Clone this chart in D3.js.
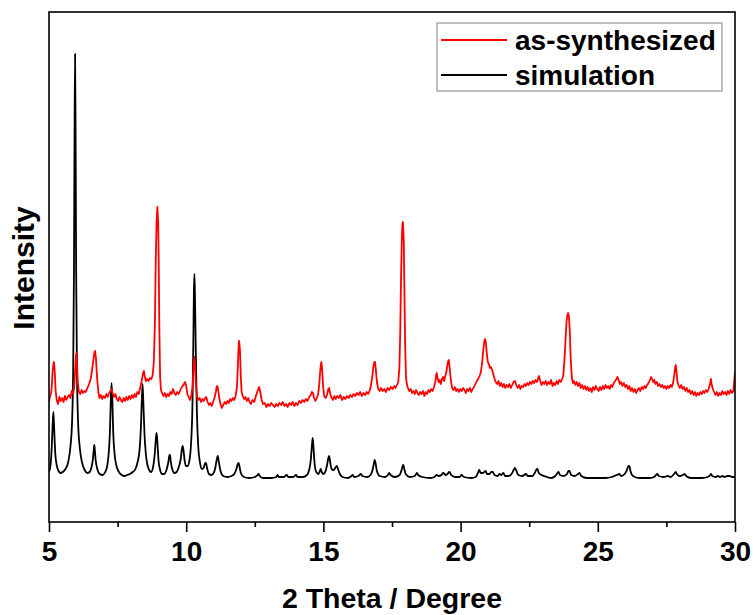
<!DOCTYPE html>
<html>
<head>
<meta charset="utf-8">
<script src="https://cdn.jsdelivr.net/npm/d3@7"></script>
<style>
  html, body { margin: 0; padding: 0; background: #fff; }
  svg text { font-family: "Liberation Sans", Arial, sans-serif; font-weight: bold; }
</style>
</head>
<body>
<svg id="chart" width="753" height="615"></svg>
<script>
// Powder XRD patterns: measured (as-synthesized) vs. simulated, stacked in arbitrary intensity units.
const xTicks = [5, 10, 15, 20, 25, 30];
const xMinorTicks = [7.5, 12.5, 17.5, 22.5, 27.5];
const seriesNames = ["as-synthesized", "simulation"];
const seriesColors = ["#ff0000", "#000000"];
const xLabel = "2 Theta / Degree";
const yLabel = "Intensity";

// simulated pattern [2θ, intensity]
const simulation = [
[5.00,50],[5.06,58],[5.10,75],[5.13,95],[5.16,110],[5.19,92],[5.23,68],[5.28,57],[5.35,51],[5.42,49],[5.50,50],[5.60,53],[5.70,60],[5.78,75],[5.84,100],[5.88,150],[5.91,250],[5.93,380],[5.95,468],[5.97,380],[5.99,250],[6.02,150],[6.06,100],[6.12,75],[6.20,60],[6.30,52],[6.40,49],[6.48,50],[6.55,55],[6.60,63],[6.63,72],[6.65,77],[6.67,72],[6.70,62],[6.76,53],[6.85,48],[6.95,47],[7.05,50],[7.12,56],[7.18,70],[7.22,90],[7.25,120],[7.28,139],[7.31,120],[7.34,90],[7.39,68],[7.46,56],[7.55,50],[7.65,47],[7.75,46],[7.85,47],[7.95,48],[8.05,50],[8.15,53],[8.23,60],[8.30,72],[8.35,95],[8.38,120],[8.41,138],[8.44,118],[8.48,88],[8.53,68],[8.58,58],[8.65,52],[8.72,50],[8.80,56],[8.86,70],[8.90,85],[8.92,89],[8.95,80],[8.99,62],[9.05,52],[9.12,48],[9.20,48],[9.28,52],[9.35,60],[9.39,67],[9.41,67],[9.44,60],[9.50,52],[9.57,49],[9.65,50],[9.73,55],[9.80,63],[9.84,72],[9.87,76],[9.90,72],[9.94,62],[9.99,56],[10.05,56],[10.12,62],[10.18,80],[10.23,120],[10.26,180],[10.28,230],[10.30,248],[10.32,225],[10.35,170],[10.39,110],[10.44,75],[10.50,60],[10.57,53],[10.63,54],[10.68,58],[10.72,59],[10.76,54],[10.83,48],[10.92,47],[11.00,49],[11.06,54],[11.11,62],[11.15,66],[11.19,60],[11.25,51],[11.35,46],[11.50,45],[11.65,46],[11.75,48],[11.83,53],[11.88,58],[11.91,59],[11.94,56],[11.99,49],[12.10,45],[12.30,44],[12.50,45],[12.60,47],[12.64,48],[12.68,46],[12.80,44],[13.10,44],[13.28,45],[13.33,47],[13.38,45],[13.55,45],[13.66,47],[13.72,45],[13.90,45],[14.00,47],[14.06,45],[14.25,45],[14.40,47],[14.48,52],[14.54,62],[14.58,76],[14.61,84],[14.64,74],[14.68,58],[14.74,50],[14.82,48],[14.87,51],[14.90,53],[14.94,50],[15.00,48],[15.08,51],[15.14,58],[15.18,64],[15.21,66],[15.24,61],[15.30,53],[15.38,52],[15.45,55],[15.49,56],[15.53,53],[15.60,48],[15.70,45],[15.90,44],[16.02,46],[16.07,47],[16.12,45],[16.28,46],[16.36,48],[16.42,46],[16.60,45],[16.72,47],[16.80,53],[16.85,60],[16.87,62],[16.90,59],[16.95,51],[17.05,46],[17.25,45],[17.35,47],[17.40,49],[17.45,47],[17.60,45],[17.78,47],[17.85,52],[17.89,56],[17.91,57],[17.94,54],[18.00,48],[18.15,45],[18.33,46],[18.38,48],[18.41,49],[18.45,47],[18.60,45],[18.90,44],[19.05,45],[19.13,47],[19.20,46],[19.30,47],[19.37,49],[19.45,47],[19.52,48],[19.59,50],[19.66,47],[19.80,45],[19.96,45],[20.04,47],[20.12,45],[20.40,44],[20.55,45],[20.63,49],[20.68,52],[20.73,49],[20.80,49],[20.86,50],[20.91,51],[20.96,48],[21.05,48],[21.12,50],[21.17,50],[21.24,47],[21.35,46],[21.42,48],[21.48,47],[21.52,48],[21.56,49],[21.62,46],[21.75,46],[21.88,49],[21.95,53],[21.98,54],[22.02,52],[22.10,47],[22.25,46],[22.38,48],[22.45,46],[22.62,46],[22.72,50],[22.78,53],[22.80,53],[22.85,49],[22.95,47],[23.15,45],[23.30,44],[23.45,46],[23.53,49],[23.57,50],[23.62,47],[23.75,46],[23.88,48],[23.93,51],[23.97,51],[24.03,47],[24.15,46],[24.28,48],[24.33,49],[24.40,46],[24.60,44],[25.00,44],[25.30,44],[25.50,45],[25.60,46],[25.70,47],[25.78,48],[25.85,46],[25.98,48],[26.06,52],[26.12,56],[26.15,56],[26.19,51],[26.28,46],[26.50,44],[26.90,44],[27.05,45],[27.12,47],[27.17,48],[27.22,46],[27.40,45],[27.55,46],[27.65,45],[27.78,48],[27.84,50],[27.88,48],[27.98,46],[28.10,47],[28.17,48],[28.22,46],[28.40,44],[28.80,44],[29.00,45],[29.10,47],[29.13,48],[29.17,46],[29.30,45],[29.38,46],[29.45,45],[29.55,46],[29.62,45],[29.72,46],[29.80,46],[29.90,45],[30.00,45]
];

// measured pattern [2θ, intensity], offset above the simulation
const asSynthesized = [
[5.00,120],[5.03,125],[5.07,128],[5.10,135],[5.13,150],[5.16,158],[5.18,160],[5.21,150],[5.24,132],[5.28,122],[5.33,118],[5.38,125],[5.43,121],[5.48,124],[5.53,120],[5.58,126],[5.63,122],[5.68,125],[5.73,127],[5.78,124],[5.83,131],[5.88,128],[5.92,135],[5.95,150],[5.98,166],[6.00,169],[6.02,160],[6.05,140],[6.09,130],[6.14,128],[6.19,132],[6.24,129],[6.29,131],[6.34,130],[6.40,134],[6.46,138],[6.52,143],[6.57,152],[6.62,163],[6.66,170],[6.68,171],[6.71,164],[6.75,145],[6.80,130],[6.84,124],[6.89,127],[6.94,123],[6.99,126],[7.04,124],[7.09,128],[7.14,125],[7.19,129],[7.24,131],[7.28,133],[7.32,129],[7.37,125],[7.42,128],[7.47,123],[7.52,121],[7.57,125],[7.62,122],[7.67,120],[7.72,124],[7.77,121],[7.82,125],[7.87,122],[7.92,126],[7.97,123],[8.02,127],[8.07,124],[8.12,128],[8.17,125],[8.22,130],[8.27,128],[8.32,134],[8.37,140],[8.41,146],[8.44,150],[8.46,151],[8.49,146],[8.53,141],[8.58,143],[8.63,141],[8.68,144],[8.73,143],[8.78,147],[8.82,160],[8.86,200],[8.89,260],[8.92,300],[8.95,315],[8.98,300],[9.00,255],[9.02,195],[9.05,145],[9.08,132],[9.12,129],[9.17,126],[9.22,129],[9.27,125],[9.32,128],[9.37,126],[9.42,130],[9.47,128],[9.52,133],[9.57,129],[9.62,127],[9.67,130],[9.72,128],[9.77,131],[9.82,134],[9.87,136],[9.92,138],[9.96,140],[10.00,136],[10.04,128],[10.09,125],[10.14,122],[10.19,127],[10.23,135],[10.26,150],[10.28,160],[10.30,165],[10.32,158],[10.35,140],[10.39,126],[10.44,122],[10.49,124],[10.54,120],[10.59,123],[10.64,121],[10.69,124],[10.73,125],[10.78,120],[10.83,117],[10.88,119],[10.93,116],[10.98,120],[11.03,124],[11.08,130],[11.11,135],[11.13,136],[11.16,133],[11.20,125],[11.25,118],[11.30,114],[11.35,117],[11.40,120],[11.45,118],[11.50,121],[11.55,119],[11.60,123],[11.65,121],[11.70,124],[11.75,122],[11.80,126],[11.85,135],[11.88,155],[11.91,176],[11.93,181],[11.96,172],[11.99,145],[12.02,130],[12.06,126],[12.11,123],[12.16,125],[12.21,121],[12.26,124],[12.31,120],[12.36,118],[12.42,122],[12.48,120],[12.54,126],[12.60,131],[12.64,134],[12.66,135],[12.70,130],[12.75,122],[12.80,118],[12.86,119],[12.92,115],[12.98,118],[13.04,116],[13.10,119],[13.16,117],[13.22,115],[13.28,118],[13.34,116],[13.40,119],[13.46,117],[13.52,120],[13.58,116],[13.64,118],[13.70,115],[13.76,119],[13.82,117],[13.88,120],[13.94,116],[14.00,119],[14.06,117],[14.12,121],[14.18,119],[14.24,122],[14.30,120],[14.36,123],[14.42,121],[14.48,125],[14.54,127],[14.58,130],[14.62,129],[14.66,124],[14.71,121],[14.76,124],[14.81,128],[14.85,138],[14.88,150],[14.91,158],[14.93,160],[14.96,150],[14.99,135],[15.03,126],[15.08,124],[15.13,127],[15.18,133],[15.21,134],[15.25,128],[15.30,124],[15.35,122],[15.40,126],[15.45,123],[15.50,126],[15.56,124],[15.62,127],[15.68,122],[15.74,125],[15.80,123],[15.86,126],[15.92,124],[15.98,127],[16.04,125],[16.10,128],[16.16,126],[16.22,129],[16.28,127],[16.34,130],[16.40,126],[16.46,129],[16.52,127],[16.58,130],[16.63,128],[16.68,131],[16.73,136],[16.78,145],[16.82,155],[16.86,160],[16.88,160],[16.91,153],[16.95,140],[17.00,133],[17.05,131],[17.10,134],[17.16,131],[17.22,133],[17.28,130],[17.34,134],[17.40,132],[17.46,135],[17.52,133],[17.58,136],[17.63,134],[17.68,137],[17.73,140],[17.77,155],[17.80,190],[17.83,245],[17.86,285],[17.88,298],[17.90,300],[17.93,280],[17.95,235],[17.98,175],[18.01,145],[18.04,138],[18.08,134],[18.13,131],[18.18,133],[18.23,129],[18.28,131],[18.33,128],[18.38,132],[18.43,129],[18.48,127],[18.53,130],[18.58,128],[18.63,131],[18.68,126],[18.73,130],[18.78,128],[18.83,132],[18.88,130],[18.93,133],[18.98,131],[19.03,135],[19.08,140],[19.11,147],[19.13,149],[19.16,144],[19.20,140],[19.24,142],[19.28,138],[19.32,143],[19.36,145],[19.40,141],[19.44,146],[19.48,150],[19.52,157],[19.55,161],[19.57,162],[19.60,155],[19.64,143],[19.69,134],[19.74,132],[19.79,135],[19.84,131],[19.89,133],[19.94,130],[19.99,133],[20.04,131],[20.09,134],[20.14,132],[20.19,129],[20.24,133],[20.29,131],[20.34,134],[20.39,130],[20.44,133],[20.49,135],[20.54,138],[20.59,141],[20.64,143],[20.69,146],[20.74,150],[20.78,158],[20.82,170],[20.86,180],[20.89,183],[20.92,180],[20.95,170],[20.99,160],[21.03,158],[21.07,154],[21.11,155],[21.15,152],[21.19,148],[21.23,144],[21.28,140],[21.33,138],[21.38,141],[21.43,136],[21.48,139],[21.53,135],[21.58,138],[21.63,134],[21.68,137],[21.73,135],[21.78,138],[21.83,134],[21.88,137],[21.93,140],[21.98,141],[22.03,137],[22.08,134],[22.13,137],[22.18,133],[22.23,136],[22.28,135],[22.33,138],[22.38,136],[22.43,139],[22.48,137],[22.53,140],[22.58,138],[22.63,141],[22.68,139],[22.73,142],[22.78,140],[22.83,144],[22.86,146],[22.90,141],[22.95,137],[23.00,140],[23.05,138],[23.10,141],[23.15,137],[23.20,140],[23.25,138],[23.30,142],[23.35,136],[23.40,139],[23.45,137],[23.50,141],[23.55,138],[23.60,142],[23.65,140],[23.70,143],[23.74,146],[23.78,160],[23.82,180],[23.86,200],[23.89,207],[23.92,209],[23.95,205],[23.98,190],[24.01,165],[24.05,145],[24.09,139],[24.13,141],[24.18,137],[24.23,140],[24.28,136],[24.33,139],[24.38,134],[24.43,137],[24.48,133],[24.53,136],[24.58,132],[24.63,135],[24.68,131],[24.73,134],[24.78,130],[24.83,135],[24.88,132],[24.93,136],[24.98,133],[25.03,131],[25.08,135],[25.13,132],[25.18,136],[25.23,133],[25.28,137],[25.33,134],[25.38,136],[25.43,133],[25.48,137],[25.53,135],[25.58,139],[25.63,141],[25.68,143],[25.72,145],[25.76,142],[25.80,138],[25.85,140],[25.90,136],[25.95,139],[26.00,135],[26.05,137],[26.10,133],[26.15,136],[26.20,131],[26.25,134],[26.30,130],[26.35,133],[26.40,129],[26.45,132],[26.50,134],[26.55,131],[26.60,135],[26.65,133],[26.70,136],[26.75,134],[26.80,137],[26.85,139],[26.90,142],[26.94,145],[26.98,143],[27.02,140],[27.06,142],[27.10,138],[27.15,140],[27.20,136],[27.25,138],[27.30,135],[27.35,137],[27.40,134],[27.45,136],[27.50,133],[27.55,136],[27.60,134],[27.65,137],[27.70,135],[27.75,140],[27.79,148],[27.82,155],[27.84,157],[27.87,150],[27.90,140],[27.94,137],[27.99,134],[28.04,137],[28.09,133],[28.14,135],[28.19,131],[28.24,134],[28.29,130],[28.34,132],[28.39,128],[28.44,131],[28.49,127],[28.54,130],[28.59,126],[28.64,129],[28.69,127],[28.74,130],[28.79,128],[28.84,131],[28.89,129],[28.94,132],[28.99,130],[29.04,133],[29.09,138],[29.12,143],[29.15,138],[29.19,133],[29.24,130],[29.29,127],[29.34,130],[29.39,126],[29.44,129],[29.49,127],[29.54,131],[29.59,128],[29.64,130],[29.69,127],[29.74,131],[29.79,128],[29.84,132],[29.89,129],[29.94,131],[29.97,140],[30.00,150]
];

const margin = { top: 12, right: 18, bottom: 93, left: 49 };
const width = 753, height = 615;
const innerW = width - margin.left - margin.right;
const innerH = height - margin.top - margin.bottom;

const svg = d3.select("#chart");
const g = svg.append("g").attr("transform", `translate(${margin.left},${margin.top})`);

const x = d3.scaleLinear().domain([5, 30]).range([0, innerW]);
const y = d3.scaleLinear().domain([0, 510]).range([innerH, 0]);

// clip traces to the frame
svg.append("defs").append("clipPath").attr("id", "plotClip")
  .append("rect").attr("width", innerW).attr("height", innerH);

const plot = g.append("g").attr("clip-path", "url(#plotClip)");

// simulated trace: smooth profile through the sampled points
plot.append("path").datum(simulation)
  .attr("fill", "none").attr("stroke", seriesColors[1]).attr("stroke-width", 1.8)
  .attr("stroke-linejoin", "round")
  .attr("d", d3.line().x(d => x(d[0])).y(d => y(d[1])).curve(d3.curveMonotoneX));

// measured trace: straight segments keep the noise
plot.append("path").datum(asSynthesized)
  .attr("fill", "none").attr("stroke", seriesColors[0]).attr("stroke-width", 1.8)
  .attr("stroke-linejoin", "round")
  .attr("d", d3.line().x(d => x(d[0])).y(d => y(d[1])));

// frame
g.append("rect").attr("width", innerW).attr("height", innerH)
  .attr("fill", "none").attr("stroke", "#000").attr("stroke-width", 1.6);

// bottom axis: major and minor ticks pointing outward
const xAxis = g.append("g").attr("transform", `translate(0,${innerH})`)
  .call(d3.axisBottom(x).tickValues(xTicks).tickSize(10).tickPadding(9).tickFormat(d3.format("d")));
xAxis.select(".domain").remove();
xAxis.selectAll(".tick line").attr("stroke-width", 1.6);
xAxis.selectAll(".tick text").attr("font-size", 28).attr("fill", "#000")
  .attr("font-family", '"Liberation Sans", Arial, sans-serif');

const xMinor = g.append("g").attr("transform", `translate(0,${innerH})`)
  .call(d3.axisBottom(x).tickValues(xMinorTicks).tickSize(5).tickFormat(""));
xMinor.select(".domain").remove();
xMinor.selectAll(".tick line").attr("stroke-width", 1.6);

// axis titles
svg.append("text").attr("x", margin.left + innerW / 2).attr("y", 608)
  .attr("text-anchor", "middle").attr("font-size", 28.5).text(xLabel);
svg.append("text").attr("transform", `translate(34,${margin.top + 256}) rotate(-90)`)
  .attr("text-anchor", "middle").attr("font-size", 30).text(yLabel);

// legend
const legend = svg.append("g").attr("transform", "translate(437,23)");
legend.append("rect").attr("width", 285).attr("height", 68)
  .attr("fill", "#fff").attr("stroke", "#808080").attr("stroke-width", 1);
seriesNames.forEach((name, i) => {
  const ly = 17 + i * 35;
  legend.append("line").attr("x1", 4).attr("x2", 70).attr("y1", ly).attr("y2", ly)
    .attr("stroke", seriesColors[i]).attr("stroke-width", 1.8);
  legend.append("text").attr("x", 78).attr("y", ly + 9.5).attr("font-size", 28).text(name);
});
</script>
</body>
</html>
